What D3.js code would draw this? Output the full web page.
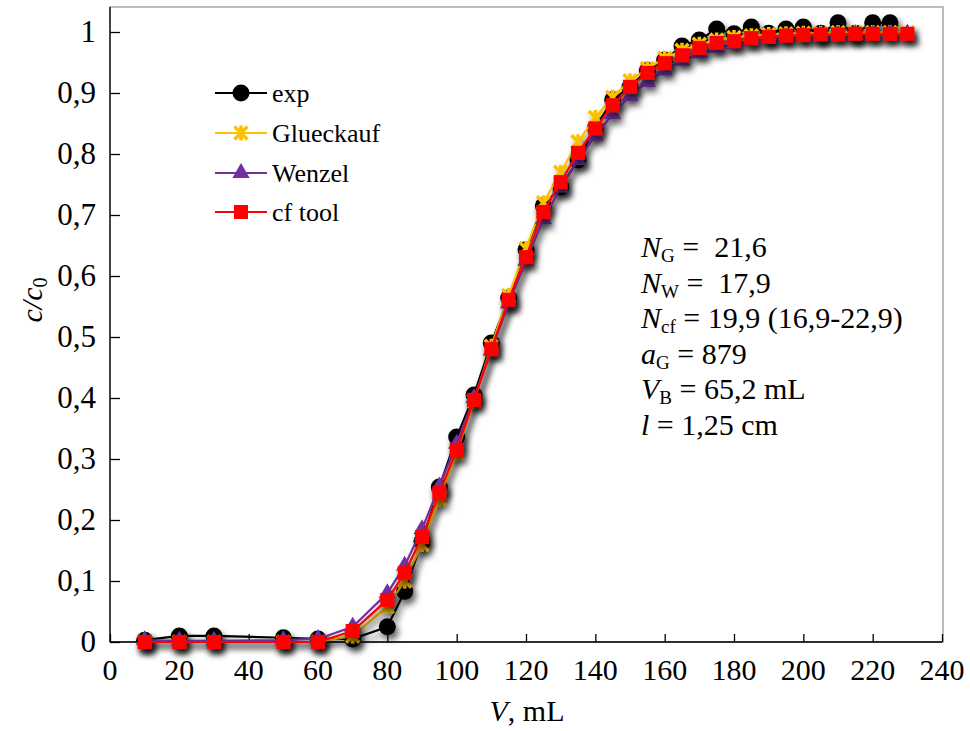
<!DOCTYPE html>
<html>
<head>
<meta charset="utf-8">
<script src="https://cdn.jsdelivr.net/npm/d3@7"></script>
<style>
  body { margin: 0; background: #fff; }
  svg text { white-space: pre; fill: #000; }
</style>
</head>
<body>
<svg id="chart" width="970" height="731"></svg>
<script>
// volumes (mL)
const vModel = [10, 20, 30, 50, 60, 70, 80, 85, 90, 95, 100, 105, 110, 115, 120, 125, 130, 135, 140, 145,
  150, 155, 160, 165, 170, 175, 180, 185, 190, 195, 200, 205, 210, 215, 220, 225, 230];
const vExp = vModel.slice(0, 36);

const expVals = [0.003, 0.01, 0.01, 0.007, 0.005, 0.005, 0.025, 0.083, 0.165, 0.254, 0.336, 0.405, 0.49, 0.564,
  0.643, 0.715, 0.746, 0.79, 0.843, 0.889, 0.91, 0.937, 0.954, 0.977, 0.987, 1.005, 0.997, 1.008, 0.998, 1.005,
  1.008, 0.998, 1.015, 0.998, 1.015, 1.015];
const glueckaufVals = [0, 0, 0, 0, 0, 0.01, 0.058, 0.1, 0.16, 0.235, 0.31, 0.395, 0.485, 0.568, 0.645, 0.72,
  0.77, 0.82, 0.86, 0.893, 0.92, 0.94, 0.957, 0.97, 0.98, 0.987, 0.991, 0.994, 0.996, 0.997, 0.998, 0.998,
  0.999, 0.999, 0.999, 0.999, 0.999];
const wenzelVals = [0.003, 0.002, 0.002, 0.003, 0.005, 0.025, 0.08, 0.125, 0.185, 0.255, 0.325, 0.4, 0.478,
  0.555, 0.625, 0.693, 0.745, 0.79, 0.83, 0.865, 0.895, 0.918, 0.937, 0.953, 0.965, 0.974, 0.98, 0.985, 0.989,
  0.991, 0.993, 0.994, 0.995, 0.996, 0.996, 0.997, 0.997];
const cfVals = [0, 0, 0, 0, 0, 0.018, 0.069, 0.113, 0.172, 0.244, 0.315, 0.397, 0.48, 0.561, 0.631, 0.705,
  0.754, 0.802, 0.842, 0.88, 0.91, 0.933, 0.949, 0.962, 0.974, 0.982, 0.985, 0.99, 0.992, 0.994, 0.995, 0.996,
  0.996, 0.997, 0.997, 0.997, 0.997];

const xTicks = d3.range(0, 241, 20);
const yTicks = d3.range(0, 1.001, 0.1);

const series = [
  { name: "exp", x: vExp, y: expVals, color: "#000000", marker: "circle" },
  { name: "Glueckauf", x: vModel, y: glueckaufVals, color: "#FFC000", marker: "star" },
  { name: "Wenzel", x: vModel, y: wenzelVals, color: "#7030A0", marker: "triangle" },
  { name: "cf tool", x: vModel, y: cfVals, color: "#FF0000", marker: "square" }
];

const serif = "'Liberation Serif', 'Times New Roman', serif";
const svg = d3.select("#chart");
const x = d3.scaleLinear().domain([0, 240]).range([110, 942]);
const y = d3.scaleLinear().domain([0, 1]).range([642, 32]);
const yTop = y(1.041);

// drop shadow like the spreadsheet markers
const defs = svg.append("defs");
defs.append("filter").attr("id", "shadow").attr("x", "-20%").attr("y", "-20%")
    .attr("width", "140%").attr("height", "140%")
  .append("feDropShadow")
    .attr("dx", 3).attr("dy", 5).attr("stdDeviation", 3)
    .attr("flood-color", "#000").attr("flood-opacity", 0.6);

// frame
svg.append("rect")
    .attr("x", x(0)).attr("y", yTop)
    .attr("width", x(240) - x(0) + 1).attr("height", y(0) - yTop)
    .attr("fill", "none").attr("stroke", "#a6a6a6").attr("stroke-width", 1.5);

// axes with inward ticks
const xAxis = svg.append("g").attr("transform", `translate(0,${y(0)})`)
    .call(d3.axisTop(x).tickValues(xTicks).tickSize(8).tickFormat(""));
const yAxis = svg.append("g").attr("transform", `translate(${x(0)},0)`)
    .call(d3.axisRight(y).tickValues(yTicks).tickSize(10).tickFormat(""));
xAxis.select(".domain").attr("d", `M${x(0)},0H${x(240)}`);
yAxis.select(".domain").attr("d", `M0,${yTop}V${y(0)}`);
svg.selectAll(".domain, .tick line").attr("stroke", "#000").attr("stroke-width", 1.3);

const fmt = v => d3.format(".1~f")(v).replace(".", ",");
svg.append("g").selectAll("text").data(xTicks).join("text")
    .style("font-family", serif)
    .attr("x", d => x(d)).attr("y", 680)
    .attr("text-anchor", "middle").attr("font-size", 30)
    .text(d => d);
svg.append("g").selectAll("text").data(yTicks).join("text")
    .style("font-family", serif)
    .attr("x", 96).attr("y", d => y(d) + 10)
    .attr("text-anchor", "end").attr("font-size", 31)
    .text(d => fmt(d));

// axis titles
const xt = svg.append("text").style("font-family", serif).attr("x", 527).attr("y", 721)
    .attr("text-anchor", "middle").attr("font-size", 30);
xt.append("tspan").attr("font-style", "italic").text("V");
xt.append("tspan").text(", mL");

const yt = svg.append("text").style("font-family", serif).attr("transform", "translate(42,300) rotate(-90)")
    .attr("text-anchor", "middle").attr("font-size", 30).attr("font-style", "italic");
yt.append("tspan").text("c/c");
yt.append("tspan").attr("font-size", 20).attr("dy", 5).attr("font-style", "normal").text("0");

// markers
function drawMarker(g, type, color, cx, cy) {
  if (type === "circle") {
    g.append("circle").attr("cx", cx).attr("cy", cy).attr("r", 8.5).attr("fill", color);
  } else if (type === "triangle") {
    g.append("path").attr("transform", `translate(${cx},${cy})`)
      .attr("d", d3.symbol(d3.symbolTriangle, 130)()).attr("fill", color);
  } else if (type === "square") {
    g.append("rect").attr("x", cx - 7).attr("y", cy - 7).attr("width", 14).attr("height", 14).attr("fill", color);
  } else if (type === "star") {
    g.append("path").attr("d", `M${cx - 6.5},${cy - 6.5}L${cx + 6.5},${cy + 6.5}M${cx - 6.5},${cy + 6.5}L${cx + 6.5},${cy - 6.5}M${cx},${cy - 7.5}V${cy + 7.5}`)
      .attr("stroke", color).attr("stroke-width", 3.5).attr("fill", "none");
  }
}

const line = d3.line().x(d => x(d[0])).y(d => y(d[1]));
series.forEach(s => {
  const pts = s.x.map((v, i) => [v, s.y[i]]);
  const g = svg.append("g").attr("filter", "url(#shadow)");
  g.append("path").datum(pts).attr("d", line)
    .attr("fill", "none").attr("stroke", s.color).attr("stroke-width", 2.2);
  pts.forEach(p => drawMarker(g, s.marker, s.color, x(p[0]), y(p[1])));
});

// legend
const legY = [93, 133, 173, 212];
series.forEach((s, i) => {
  const g = svg.append("g");
  g.append("line").attr("x1", 215).attr("x2", 267).attr("y1", legY[i]).attr("y2", legY[i])
    .attr("stroke", s.color).attr("stroke-width", 2.2);
  drawMarker(g, s.marker, s.color, 241, legY[i]);
  g.append("text").style("font-family", serif).attr("x", 272).attr("y", legY[i] + 9)
    .attr("font-size", 26).text(s.name);
});

// parameter annotation
const ann = [
  { sym: "N", sub: "G", rest: " =  21,6" },
  { sym: "N", sub: "W", rest: " =  17,9" },
  { sym: "N", sub: "cf", rest: " = 19,9 (16,9-22,9)" },
  { sym: "a", sub: "G", rest: " = 879" },
  { sym: "V", sub: "B", rest: " = 65,2 mL" },
  { sym: "l", sub: "", rest: " = 1,25 cm" }
];
ann.forEach((a, i) => {
  const t = svg.append("text").style("font-family", serif)
    .attr("x", 641).attr("y", 257 + i * 35.5).attr("font-size", 30);
  t.append("tspan").attr("font-style", "italic").text(a.sym);
  if (a.sub) {
    t.append("tspan").attr("font-size", 19).attr("dy", 5).text(a.sub);
    t.append("tspan").attr("dy", -5).text(a.rest);
  } else {
    t.append("tspan").text(a.rest);
  }
});
</script>
</body>
</html>
